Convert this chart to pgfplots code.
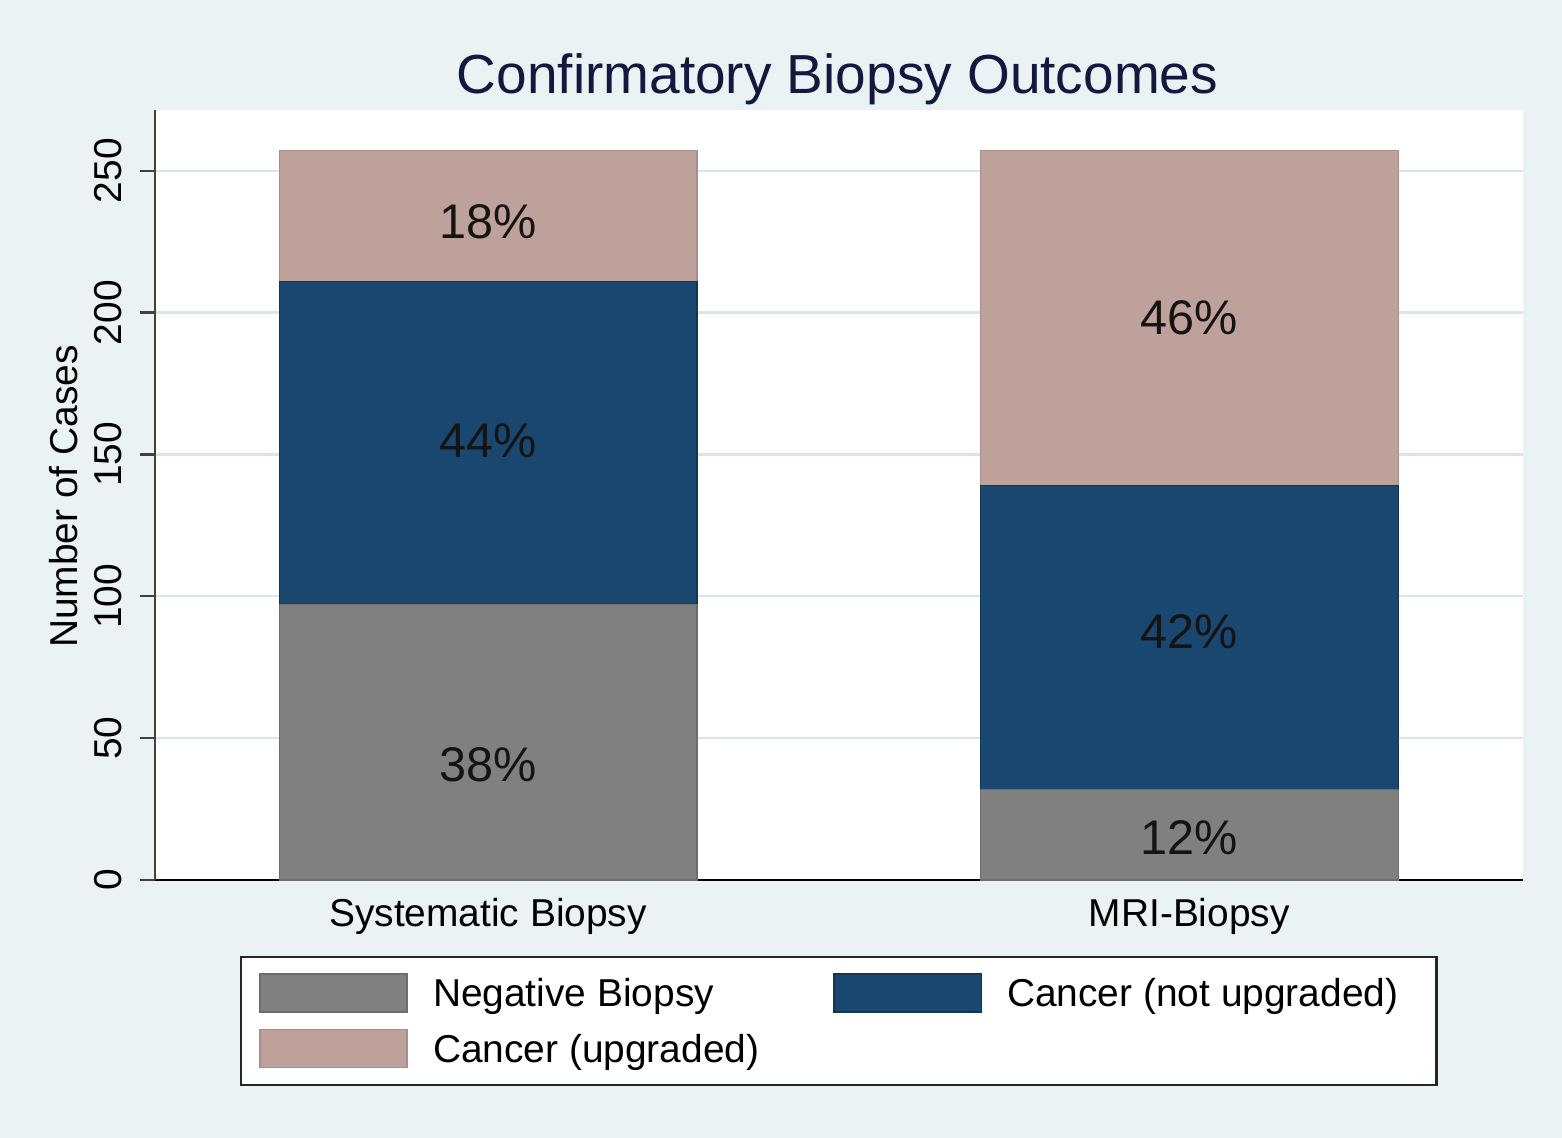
\documentclass[border=0pt]{standalone}
\usepackage{pgfplots}
\pgfplotsset{compat=1.18}
\usepackage{fontspec}
\setmainfont{Liberation Sans}
\definecolor{bgc}{RGB}{234,242,243}
\definecolor{gridc}{RGB}{214,230,234}
\definecolor{sgray}{RGB}{128,128,128}
\definecolor{snavy}{RGB}{26,71,111}
\definecolor{srose}{RGB}{191,161,155}
\definecolor{titlec}{RGB}{18,24,62}
\tikzset{pct/.style={font=\fontsize{17.5}{20}\selectfont, text=black!92}}
\begin{document}
\begin{tikzpicture}
\useasboundingbox (-55.8pt,-92.88pt) rectangle (506.52pt,316.8pt);
\fill[bgc] (-55.8pt,-92.88pt) rectangle (506.52pt,316.8pt);
\begin{axis}[
  at={(0pt,0pt)}, anchor=south west,
  scale only axis, width=492.48pt, height=277.2pt,
  xmin=-0.475, xmax=1.476, ymin=0, ymax=271.4,
  enlargelimits=false,
  ybar stacked, bar width=0.596,
  axis background/.style={fill=white},
  axis x line*=bottom, axis y line*=left,
  x axis line style={black, line width=0.8pt},
  y axis line style={black!75, line width=0.8pt},
  ytick={0,50,100,150,200,250},
  xtick={0,1}, xticklabels={Systematic Biopsy, MRI-Biopsy},
  x tick style={draw=none},
  y tick style={black!75, line width=0.8pt},
  tick align=outside, major tick length=5.4pt,
  ymajorgrids, grid style={gridc, line width=0.8pt},
  /pgf/number format/assume math mode=true,
  yticklabel style={rotate=90, anchor=base, inner sep=0pt, font=\fontsize{14}{16}\selectfont, text=black},
  yticklabel shift=6.6pt,
  xticklabel style={anchor=north, inner sep=0pt, font=\fontsize{14}{16}\selectfont, text=black},
  xticklabel shift=1.1pt,
  title={Confirmatory Biopsy Outcomes},
  title style={at={(axis description cs:0.4989,1)}, anchor=base, yshift=0pt, inner sep=0pt, font=\fontsize{19.8}{22}\selectfont, text=titlec},
  ylabel={Number of Cases},
  ylabel style={at={(axis description cs:-0.057,0.498)}, anchor=base, inner sep=0pt, font=\fontsize{14}{16}\selectfont},
  legend columns=2,
  legend image code/.code={\draw[#1, line width=0.6pt] (0pt,-6.85pt) rectangle (53pt,6.85pt);},
  legend style={at={(axis description cs:0.0621,-0.0987)}, anchor=north west,
    draw=black!85, line width=0.8pt, fill=white,
    inner xsep=6.5pt, inner ysep=5.8pt,
    font=\fontsize{14}{16}\selectfont,
    column sep=9pt, row sep=5.7pt,
    /tikz/every even column/.style={column sep=26.6pt},
    nodes={inner sep=0pt, text height=10pt, text depth=0pt},
    cells={anchor=west}},
]
\addplot[fill=sgray, draw=sgray!85!black] coordinates {(0,97) (1,32)};
\addlegendentry{Negative Biopsy}
\addplot[fill=snavy, draw=snavy!75!black] coordinates {(0,114) (1,107)};
\addlegendentry{Cancer (not upgraded)\hspace*{7.2pt}}
\addplot[fill=srose, draw=srose!88!black] coordinates {(0,46) (1,118)};
\addlegendentry{Cancer (upgraded)}
\coordinate (p1) at (axis cs:0,231.9);
\coordinate (p2) at (axis cs:0,154.7);
\coordinate (p3) at (axis cs:0,40.5);
\coordinate (p4) at (axis cs:1,198.1);
\coordinate (p5) at (axis cs:1,87.4);
\coordinate (p6) at (axis cs:1,14.8);
\end{axis}
\node[pct] at (p1) {18\%};
\node[pct] at (p2) {44\%};
\node[pct] at (p3) {38\%};
\node[pct] at (p4) {46\%};
\node[pct] at (p5) {42\%};
\node[pct] at (p6) {12\%};
\end{tikzpicture}
\end{document}
